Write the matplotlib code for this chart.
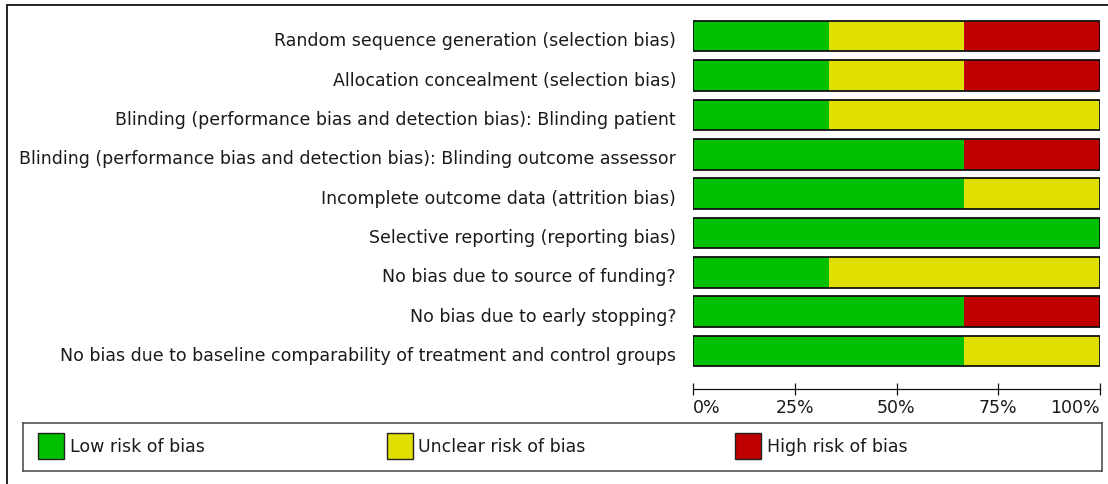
import matplotlib
matplotlib.use("Agg")
import matplotlib.pyplot as plt
from matplotlib.patches import Rectangle
from matplotlib.lines import Line2D
from matplotlib.transforms import ScaledTranslation

plt.rcParams['font.family'] = ['DejaVu Sans']

categories = [
    "Random sequence generation (selection bias)",
    "Allocation concealment (selection bias)",
    "Blinding (performance bias and detection bias): Blinding patient",
    "Blinding (performance bias and detection bias): Blinding outcome assessor",
    "Incomplete outcome data (attrition bias)",
    "Selective reporting (reporting bias)",
    "No bias due to source of funding?",
    "No bias due to early stopping?",
    "No bias due to baseline comparability of treatment and control groups",
]
low_risk =     [33.3, 33.3, 33.3, 66.7, 66.7, 100.0, 33.3, 66.7, 66.7]
unclear_risk = [33.3, 33.3, 66.7, 0.0, 33.3, 0.0, 66.7, 0.0, 33.3]
high_risk =    [33.4, 33.4, 0.0, 33.3, 0.0, 0.0, 0.0, 33.3, 0.0]
series_names = ["Low risk of bias", "Unclear risk of bias", "High risk of bias"]
series_colors = ["#00C000", "#E0E000", "#C00000"]
tick_values = [0, 25, 50, 75, 100]
tick_labels = ["0%", "25%", "50%", "75%", "100%"]

W, H = 1108, 484
fig = plt.figure(figsize=(W / 100, H / 100), dpi=100)
fig.patch.set_facecolor("white")

def px_axes(x0, y0, x1, y1):
    return fig.add_axes([x0 / W, 1 - y1 / H, (x1 - x0) / W, (y1 - y0) / H])

TXT = "#1a1a1a"
FS = 12.5

# bar axes
ax = px_axes(693, 17, 1100, 389.3)
n = len(categories)
ypos = list(range(n))
bh = 0.775
lefts = [0.0] * n
for vals, col in zip([low_risk, unclear_risk, high_risk], series_colors):
    ax.barh(ypos, vals, left=lefts, height=bh, color=col, edgecolor="none", linewidth=0)
    lefts = [l + v for l, v in zip(lefts, vals)]
ax.barh(ypos, lefts, left=0, height=bh, fill=False, edgecolor="#111111", linewidth=1.3)
ax.set_xlim(0, 100)
ax.set_ylim(8.973, -0.488)
for s in ["top", "left", "right"]:
    ax.spines[s].set_visible(False)
ax.spines["bottom"].set_linewidth(0.9)
ax.spines["bottom"].set_color("#111111")
ax.set_xticks(tick_values)
ax.set_xticklabels(tick_labels, fontsize=FS, color=TXT)
ax.tick_params(axis="x", direction="inout", length=8.6, width=0.9, color="#111111", pad=2.5)
labels = ax.get_xticklabels()
labels[0].set_horizontalalignment("left")
labels[-1].set_horizontalalignment("right")
ax.set_yticks(ypos)
ax.set_yticklabels(categories, fontsize=FS, color=TXT)
ax.tick_params(axis="y", length=0, pad=12.2)
shift = ScaledTranslation(0, -3 / 100, fig.dpi_scale_trans)
for lbl in ax.get_yticklabels():
    lbl.set_transform(lbl.get_transform() + shift)
ax.set_facecolor("none")

# legend box
lax = px_axes(23, 422.7, 1101.5, 471)
lax.set_xlim(23, 1101.5)
lax.set_ylim(471, 422.7)
lax.set_xticks([])
lax.set_yticks([])
for s in lax.spines.values():
    s.set_linewidth(1.1)
    s.set_color("#444444")
item_x0, item_step, sq = 38, 348.5, 26
for i, (name, col) in enumerate(zip(series_names, series_colors)):
    x = item_x0 + i * item_step
    lax.add_patch(Rectangle((x, 433), sq, sq, facecolor=col, edgecolor="#222222", linewidth=1.0))
    lax.text(x + sq + 6, 446.5, name, fontsize=FS, color=TXT, va="center", ha="left")

# outer frame (left and top edges visible)
fig.add_artist(Line2D([7 / W, 7 / W], [0, 1 - 5 / H], color="#222222", linewidth=1.4, transform=fig.transFigure))
fig.add_artist(Line2D([7 / W, 1], [1 - 5 / H, 1 - 5 / H], color="#222222", linewidth=1.4, transform=fig.transFigure))

fig.savefig("out.png", dpi=100, facecolor="white")
